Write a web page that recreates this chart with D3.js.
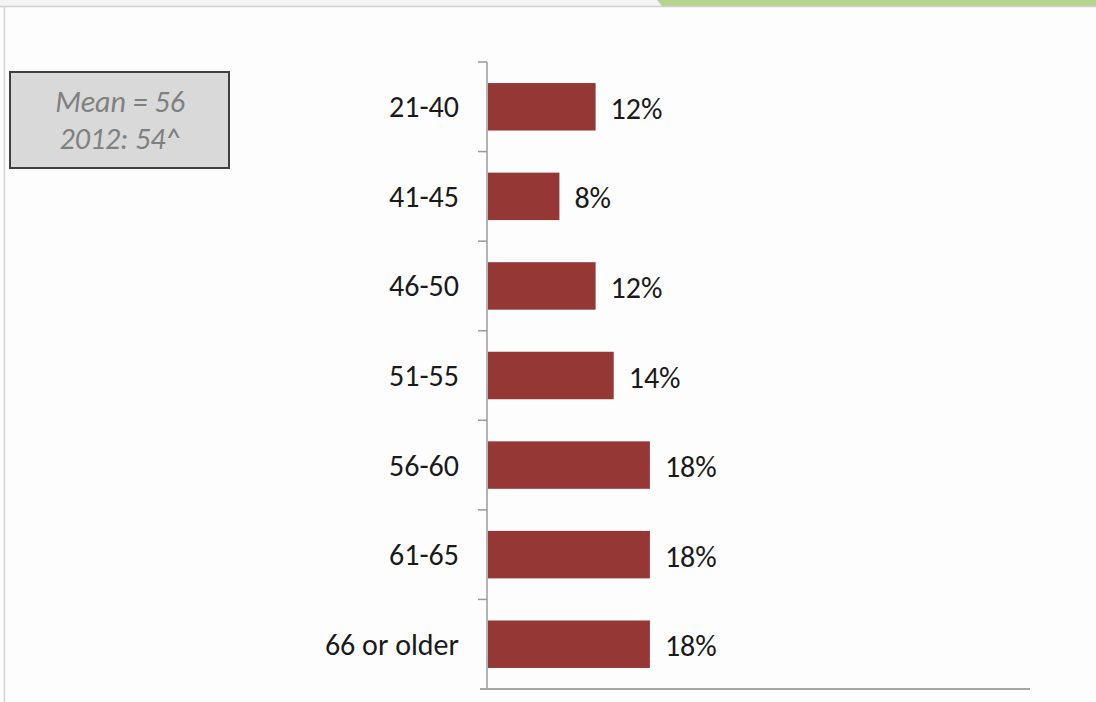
<!DOCTYPE html>
<html>
<head>
<meta charset="utf-8">
<title>Age distribution</title>
<script src="https://cdn.jsdelivr.net/npm/d3@7"></script>
<style>
  body { margin: 0; background: #fdfdfd; }
  svg { display: block; font-family: Carlito, Calibri, Lato, sans-serif; }
</style>
</head>
<body>
<div id="chart"></div>
<script>
// data
var categories = ["21-40", "41-45", "46-50", "51-55", "56-60", "61-65", "66 or older"];
var values = [12, 8, 12, 14, 18, 18, 18];
var meanLines = ["Mean = 56", "2012: 54^"];

var W = 1096, H = 702;
var svg = d3.select("#chart").append("svg")
  .attr("width", W)
  .attr("height", H);

// slide frame bits
svg.append("rect").attr("x", 0).attr("y", 0).attr("width", W).attr("height", 6).attr("fill", "#f3f3f3");
svg.append("path").attr("d", "M657,0 L1096,0 L1096,6 L662,6 Z").attr("fill", "#b5d58f");
svg.append("line").attr("x1", 0).attr("x2", W).attr("y1", 6.5).attr("y2", 6.5).attr("stroke", "#cfcfcf").attr("stroke-width", 1.5);
svg.append("line").attr("x1", 4.5).attr("x2", 4.5).attr("y1", 6).attr("y2", H).attr("stroke", "#d4d4d4").attr("stroke-width", 1.5);

var x0 = 487, x1 = 1030, yTop = 62, yBot = 689;

var x = d3.scaleLinear().domain([0, 60]).range([x0, x1]);
var y = d3.scaleBand().domain(categories).range([yTop, yBot]).paddingInner(0.47).paddingOuter(0.235);

// bars
svg.selectAll("rect.bar")
  .data(values)
  .enter().append("rect")
  .attr("class", "bar")
  .attr("x", x(0) + 1)
  .attr("y", function(d, i) { return y(categories[i]); })
  .attr("width", function(d) { return x(d) - x(0) - 1; })
  .attr("height", y.bandwidth())
  .attr("fill", "#953735");

// vertical axis with boundary ticks
var step = (yBot - yTop) / categories.length;
var g = svg.append("g");
g.append("line").attr("x1", x0).attr("x2", x0).attr("y1", yTop).attr("y2", yBot)
  .attr("stroke", "#9a9a9a").attr("stroke-width", 1.5);
g.selectAll("line.tick")
  .data(d3.range(categories.length))
  .enter().append("line")
  .attr("class", "tick")
  .attr("x1", x0 - 9).attr("x2", x0)
  .attr("y1", function(i) { return yTop + i * step; })
  .attr("y2", function(i) { return yTop + i * step; })
  .attr("stroke", "#9a9a9a").attr("stroke-width", 1.5);

// horizontal axis
svg.append("line").attr("x1", x0 - 7).attr("x2", x1).attr("y1", yBot).attr("y2", yBot)
  .attr("stroke", "#a6a6a6").attr("stroke-width", 2);

// category labels
svg.selectAll("text.cat")
  .data(categories)
  .enter().append("text")
  .attr("class", "cat")
  .attr("x", 459)
  .attr("y", function(d) { return y(d) + y.bandwidth() / 2; })
  .attr("dy", "0.35em")
  .attr("text-anchor", "end")
  .attr("font-size", 30)
  .attr("fill", "#1a1a1a")
  .text(function(d) { return d; });

// value labels
svg.selectAll("text.val")
  .data(values)
  .enter().append("text")
  .attr("class", "val")
  .attr("x", function(d) { return x(d) + 15; })
  .attr("y", function(d, i) { return y(categories[i]) + y.bandwidth() / 2; })
  .attr("dy", "0.4em")
  .attr("font-size", 30)
  .attr("fill", "#1a1a1a")
  .text(function(d) { return d + "%"; });

// mean box
var box = svg.append("g").attr("transform", "translate(10,72)");
box.append("rect").attr("width", 219).attr("height", 96)
  .attr("fill", "#d9d9d9").attr("stroke", "#404040").attr("stroke-width", 2);
box.selectAll("text")
  .data(meanLines)
  .enter().append("text")
  .attr("x", 110)
  .attr("y", function(d, i) { return 29 + i * 37; })
  .attr("dy", "0.35em")
  .attr("text-anchor", "middle")
  .attr("font-size", 30)
  .attr("font-style", "italic")
  .attr("fill", "#808080")
  .text(function(d) { return d; });
</script>
</body>
</html>
